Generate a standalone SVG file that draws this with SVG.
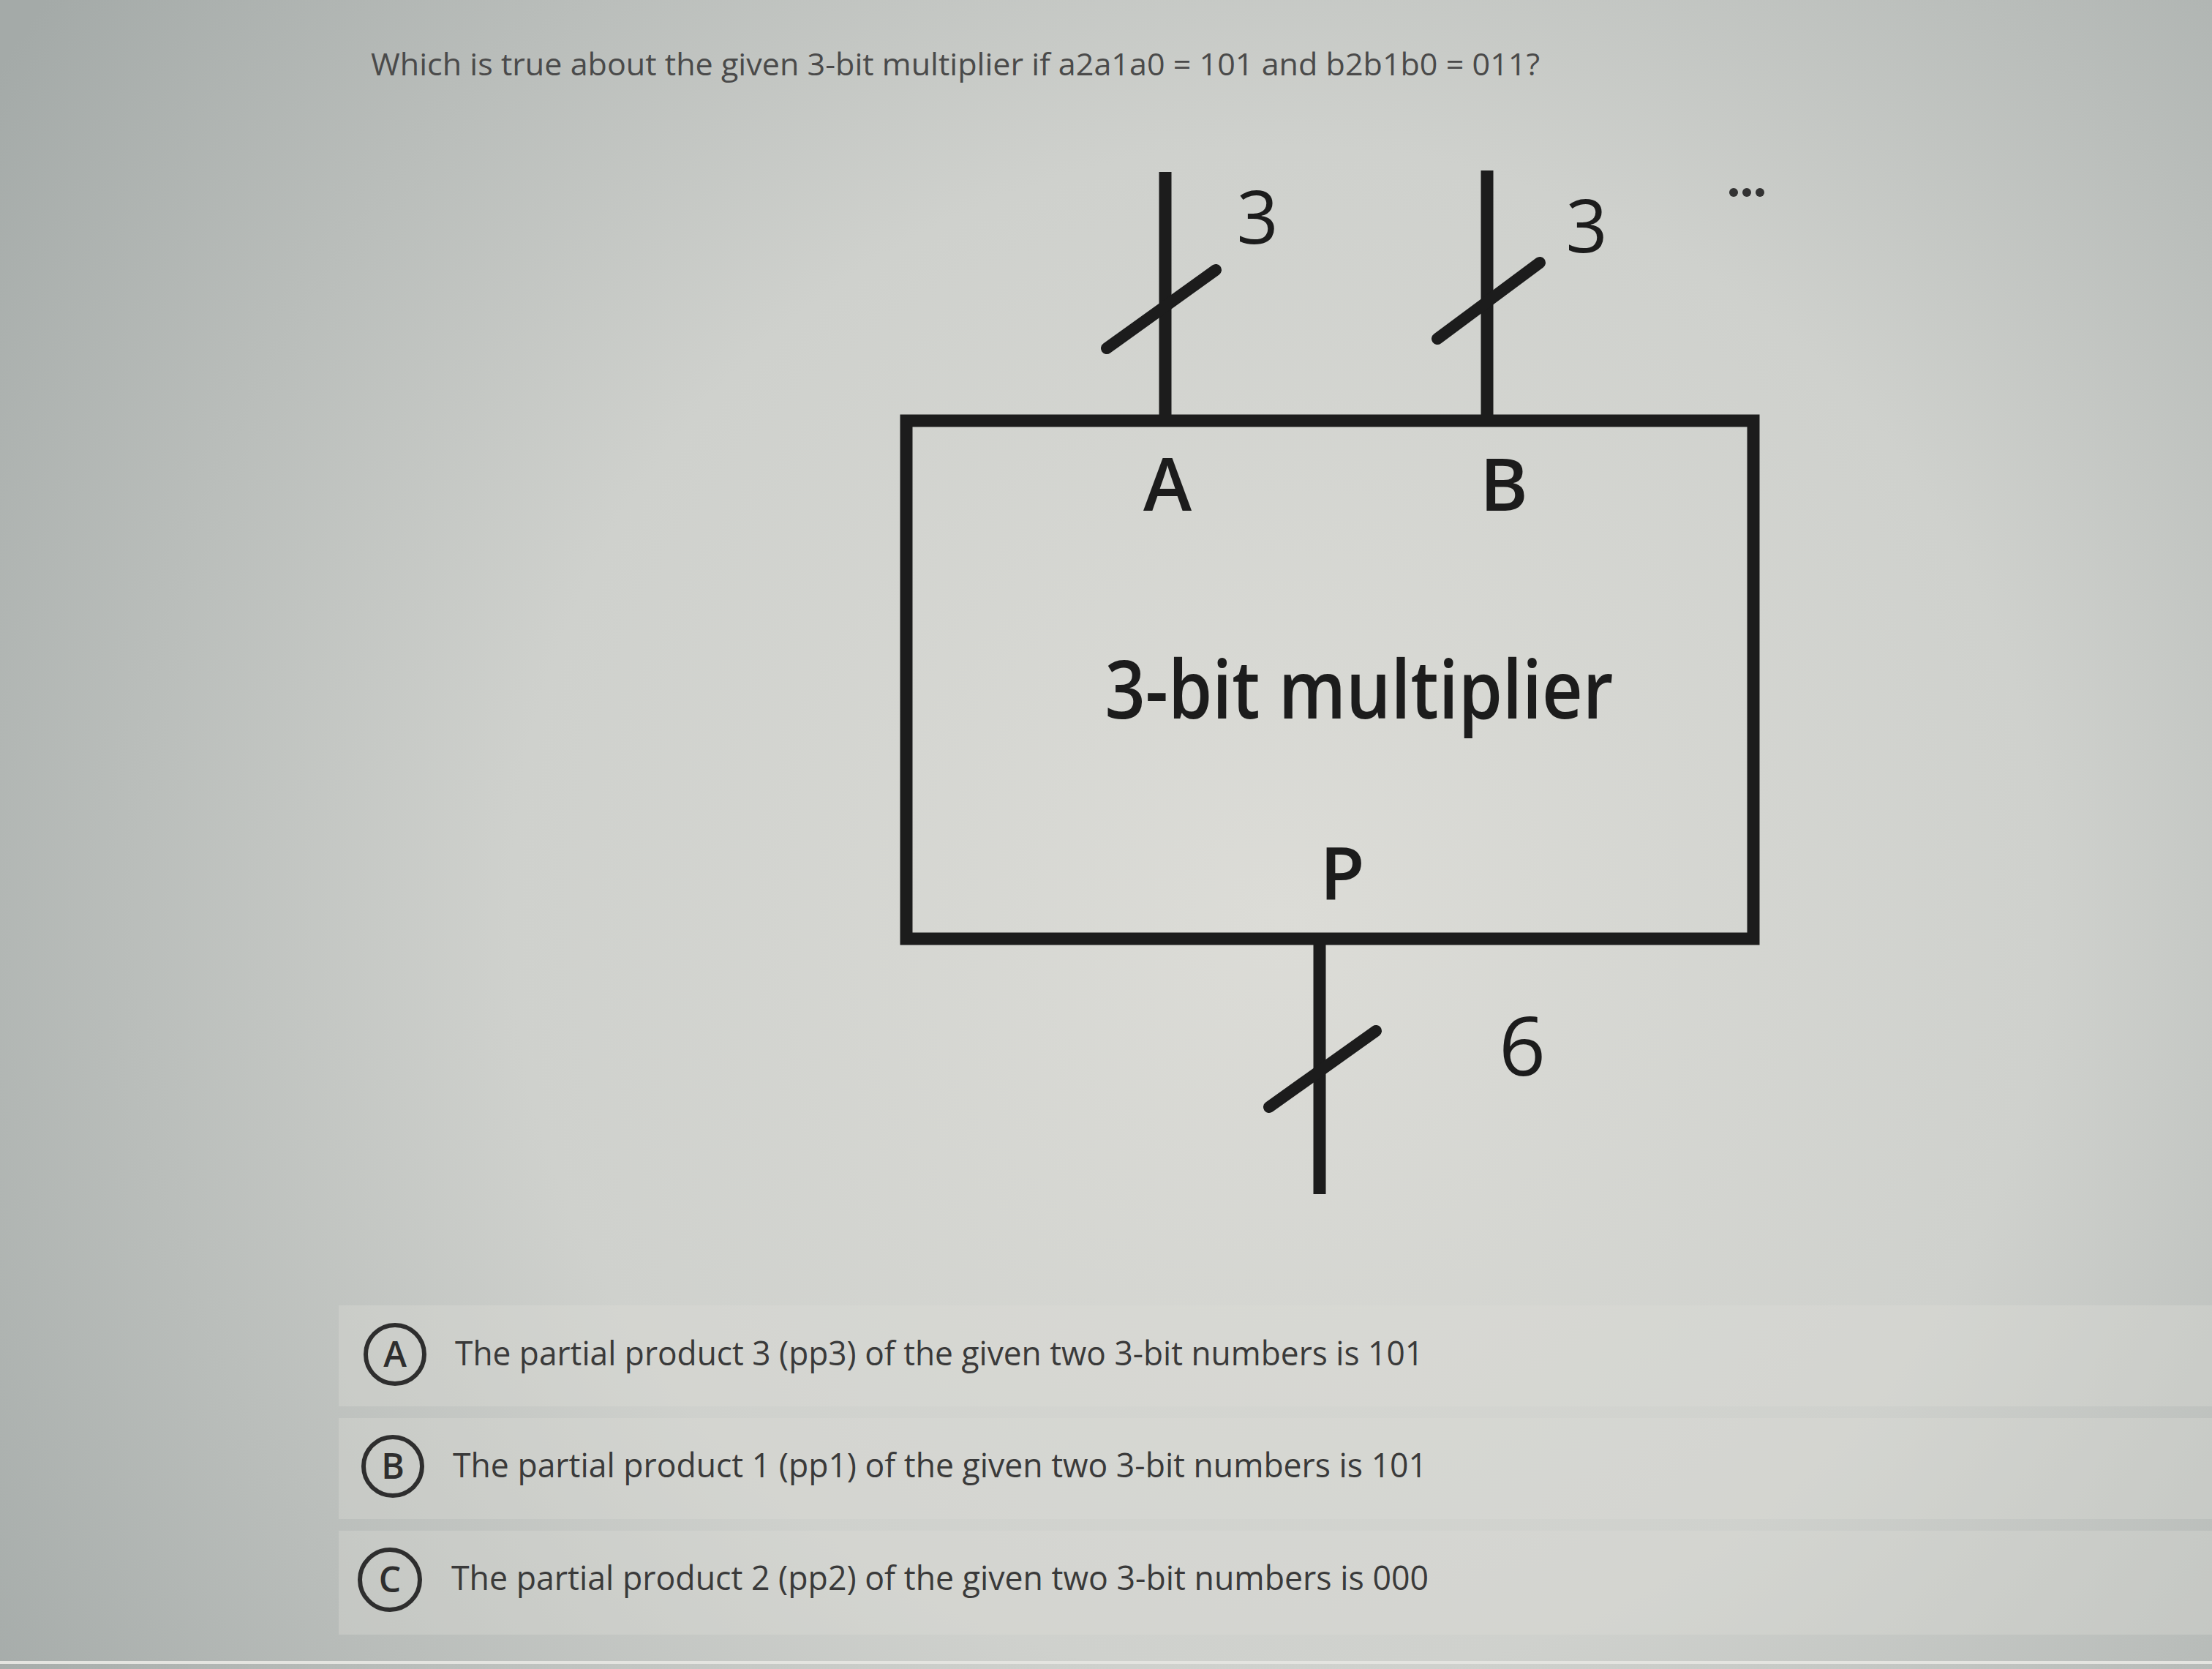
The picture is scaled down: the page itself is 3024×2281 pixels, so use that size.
<svg xmlns="http://www.w3.org/2000/svg" width="3024" height="2281" viewBox="0 0 3024 2281">
<defs>
<radialGradient id="bg" cx="1750" cy="1250" r="2100" gradientUnits="userSpaceOnUse">
<stop offset="0" stop-color="#dcdcd7"/>
<stop offset="0.5" stop-color="#cfd1cd"/>
<stop offset="1" stop-color="#a4aaa8"/>
</radialGradient>
<style>
.wire{stroke:#1c1c1c;stroke-width:17;fill:none;stroke-linecap:butt}
.slash{stroke:#1c1c1c;stroke-width:16;stroke-linecap:round}
.lbl{font-family:"Open Sans","Noto Sans","DejaVu Sans",sans-serif;fill:#1c1c1c;font-weight:600}
.num{font-family:"Open Sans","Noto Sans","DejaVu Sans",sans-serif;fill:#1c1c1c;font-weight:500}
.q{font-family:"Open Sans","Noto Sans","DejaVu Sans",sans-serif;fill:#4a4a4a}
.opt{font-family:"Open Sans","Noto Sans","DejaVu Sans",sans-serif;fill:#3a3a3a;font-size:45px}
.band{fill:#dcdcd8;opacity:0.35}
.circ{fill:none;stroke:#2e2e2e;stroke-width:6}
.cl{font-family:"Open Sans","Noto Sans","DejaVu Sans",sans-serif;fill:#2e2e2e;font-size:48px;font-weight:600;text-anchor:middle}
</style>
</defs>
<rect x="0" y="0" width="3024" height="2281" fill="url(#bg)"/>
<text class="q" x="507" y="103" font-size="42" textLength="1598" lengthAdjust="spacingAndGlyphs">Which is true about the given 3-bit multiplier if a2a1a0 = 101 and b2b1b0 = 011?</text>
<g id="menu"><circle cx="2370" cy="263" r="6" fill="#333"/><circle cx="2388" cy="263" r="6" fill="#333"/><circle cx="2406" cy="263" r="6" fill="#333"/></g>
<g id="multiplier">
<rect x="1239" y="575" width="1158" height="708" fill="none" stroke="#1c1c1c" stroke-width="17"/>
<text class="lbl" x="1596" y="698" font-size="100" text-anchor="middle">A</text>
<text class="lbl" x="2056" y="698" font-size="100" text-anchor="middle">B</text>
<text class="lbl" x="1858" y="982" font-size="110" text-anchor="middle" textLength="695" lengthAdjust="spacingAndGlyphs">3-bit multiplier</text>
<text class="lbl" x="1835" y="1230" font-size="100" text-anchor="middle">P</text>
</g>
<g id="connectors">
<line class="wire" x1="1593" y1="235" x2="1593" y2="575"/>
<line class="slash" x1="1513" y1="476" x2="1662" y2="369"/>
<line class="wire" x1="2033" y1="233" x2="2033" y2="575"/>
<line class="slash" x1="1965" y1="463" x2="2105" y2="359"/>
<line class="wire" x1="1804" y1="1283" x2="1804" y2="1632"/>
<line class="slash" x1="1735" y1="1513" x2="1881" y2="1409"/>
<text class="num" x="1719" y="333" font-size="100" text-anchor="middle">3</text>
<text class="num" x="2169" y="345" font-size="100" text-anchor="middle">3</text>
<text class="num" x="2081" y="1470" font-size="112" text-anchor="middle">6</text>
</g>
<g id="optA">
<rect class="band" x="463" y="1784" width="2561" height="138"/>
<circle class="circ" cx="540" cy="1851" r="40"/>
<text class="cl" x="540" y="1868">A</text>
<text class="opt" x="622" y="1866" textLength="1324" lengthAdjust="spacingAndGlyphs">The partial product 3 (pp3) of the given two 3-bit numbers is 101</text>
</g>
<g id="optB">
<rect class="band" x="463" y="1938" width="2561" height="138"/>
<circle class="circ" cx="537" cy="2004" r="40"/>
<text class="cl" x="537" y="2021">B</text>
<text class="opt" x="619" y="2019" textLength="1332" lengthAdjust="spacingAndGlyphs">The partial product 1 (pp1) of the given two 3-bit numbers is 101</text>
</g>
<g id="optC">
<rect class="band" x="463" y="2092" width="2561" height="142"/>
<circle class="circ" cx="533" cy="2159" r="41"/>
<text class="cl" x="533" y="2176">C</text>
<text class="opt" x="617" y="2173" textLength="1336" lengthAdjust="spacingAndGlyphs">The partial product 2 (pp2) of the given two 3-bit numbers is 000</text>
</g>
<line x1="0" y1="2272" x2="3024" y2="2272" stroke="#e4e4e0" stroke-width="4"/>
</svg>
